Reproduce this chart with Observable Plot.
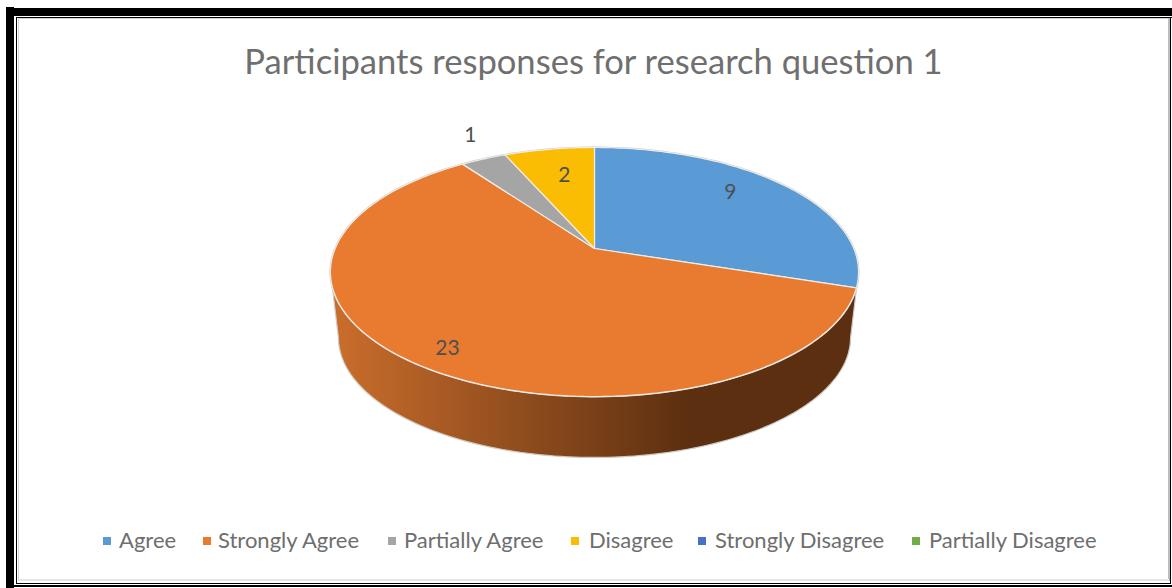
<!DOCTYPE html>
<html>
<head>
<meta charset="utf-8">
<script src="https://cdn.jsdelivr.net/npm/d3@7"></script>
<script src="https://cdn.jsdelivr.net/npm/@observablehq/plot@0.6"></script>
<style>
  html, body { margin: 0; padding: 0; background: #fff; }
  #page { position: relative; width: 1172px; height: 588px; overflow: hidden; font-family: Lato, "Noto Sans", sans-serif; }
  .rule { position: absolute; background: #000; }
  .soft { position: absolute; background: #d4d4d4; }
  #title { position: absolute; left: 0; top: 39px; width: 1187px; text-align: center; font-size: 34.6px; line-height: 44px; color: #6f6f6f; white-space: nowrap; }
  #chart { position: absolute; left: 0; top: 100px; }
  #legend { position: absolute; left: 0; top: 525px; height: 30px; width: 1172px; font-size: 22px; line-height: 30px; color: #6e6e6e; }
  #legend span.key { position: absolute; top: 12px; width: 8px; height: 8px; }
  #legend span.name { position: absolute; top: 0; white-space: nowrap; }
</style>
</head>
<body>
<div id="page">
  <div class="rule" style="left:6px;top:7px;width:8px;height:581px"></div>
  <div class="rule" style="left:6px;top:8px;width:1166px;height:8px"></div>
  <div class="rule" style="left:16px;top:17px;width:1px;height:567px"></div>
  <div class="rule" style="left:16px;top:17px;width:1156px;height:1px"></div>
  <div class="rule" style="left:1170px;top:17px;width:1px;height:567px"></div>
  <div class="rule" style="left:16px;top:583px;width:1155px;height:1px"></div>
  <div class="rule" style="left:6px;top:585px;width:1166px;height:2px"></div>
  <div class="soft" style="left:18px;top:18px;width:1px;height:563px"></div>
  <div class="soft" style="left:18px;top:18px;width:1151px;height:1px"></div>
  <div class="soft" style="left:1168px;top:18px;width:2px;height:563px;background:#bdbdbd"></div>
  <div class="soft" style="left:18px;top:579px;width:1151px;height:2px;background:#e6e6e6"></div>
  <div id="title">Participants responses for research question 1</div>
  <div id="chart"></div>
  <div id="legend"></div>
</div>
<script>
// Survey answers, in the order they run clockwise from twelve o'clock.
const categories = ["Agree", "Strongly Agree", "Partially Agree", "Disagree", "Strongly Disagree", "Partially Disagree"];
const counts = [9, 23, 1, 2, 0, 0];
const colors = ["#5B9BD5", "#E97B30", "#A5A5A5", "#FBBC04", "#4472C4", "#70AD47"];

// Legend entries: key and label left edges.
const legendKeys = [103, 203, 388, 571, 698, 912];
const legendNames = [119, 218, 404, 589, 715, 929];

// Data label placement, in disc radii from the pie's centre.
const labelSpots = [[0.515, -0.212], [-0.557, 0.379], [-0.47, -0.428], [-0.114, -0.277]];

// Camera: the disc is seen from above and in front, so the near half is
// foreshortened differently from the far half and the hub sits above the rim's middle.
const tilt = 0.1888;
const kx = 0.9822, ky = 0.4549;
const warp = (t) => t + 0.2642 * Math.sin(t) - 0.054 * Math.sin(2 * t);
const onTop = (t) => {
  const a = warp(t), u = Math.sin(a), v = -Math.cos(a), w = 1 - tilt * v;
  return { x: kx * u / w, y: ky * v / w };
};

const pie = d3.pie().sort(null).value((d) => d.count);
const answers = categories.map((name, i) => ({ name, count: counts[i] }));
const slices = pie(answers).filter((s) => s.data.count > 0);

const sliceOutline = slices.flatMap((s) => {
  const steps = Math.max(2, Math.ceil((s.endAngle - s.startAngle) * 60));
  const rim = d3.range(steps + 1).map((i) => onTop(s.startAngle + (s.endAngle - s.startAngle) * i / steps));
  return [{ x: 0, y: 0 }, ...rim].map((p) => ({ ...p, name: s.data.name }));
});

// Side wall: front half of the top rim, then the smaller base rim coming back.
const halfTurn = d3.range(0, 121).map((i) => Math.PI * i / 120);
const wall = [
  ...halfTurn.map((t) => ({ x: Math.cos(t), y: 0.089 + 0.4716 * Math.sin(t) })),
  ...halfTurn.slice().reverse().map((t) => ({ x: 0.97 * Math.cos(t), y: 0.337 + 0.4545 * Math.sin(t) }))
];
const topRim = d3.range(0, 241).map((i) => {
  const t = 2 * Math.PI * i / 240;
  return { x: Math.cos(t), y: 0.089 + 0.4716 * Math.sin(t) };
});

const labels = slices.map((s, i) => ({ text: String(s.data.count), x: labelSpots[i][0], y: labelSpots[i][1] }));

const radius = 264, hubX = 594, hubY = 148, width = 1172, height = 400;

const shade = () => {
  const defs = d3.create("svg:defs");
  const g = defs.append("linearGradient").attr("id", "wallShade").attr("x1", 0).attr("x2", 1).attr("y1", 0).attr("y2", 0);
  g.append("stop").attr("offset", "0%").attr("stop-color", "#cb6e2c");
  g.append("stop").attr("offset", "68%").attr("stop-color", "#5c2f10");
  g.append("stop").attr("offset", "100%").attr("stop-color", "#5c2f10");
  return defs.node();
};

const chart = Plot.plot({
  width, height, margin: 0,
  style: { background: "transparent", overflow: "visible" },
  x: { domain: [-hubX / radius, (width - hubX) / radius], range: [0, width], axis: null },
  y: { domain: [-hubY / radius, (height - hubY) / radius], range: [0, height], axis: null },
  color: { domain: categories, range: colors },
  marks: [
    shade,
    Plot.line(wall, { x: "x", y: "y", curve: "linear-closed", fill: "url(#wallShade)", stroke: "#cfc9c2", strokeWidth: 1.2 }),
    Plot.line(topRim, { x: "x", y: "y", curve: "linear-closed", stroke: "#c9c9c9", strokeWidth: 2 }),
    Plot.line(sliceOutline, { x: "x", y: "y", z: "name", fill: "name", curve: "linear-closed", stroke: "#f1ece6", strokeWidth: 1.2, strokeLinejoin: "round" }),
    Plot.text(labels, { x: "x", y: "y", text: "text", fontSize: 21, fill: "#4f4f4f", fontFamily: "Lato, 'Noto Sans', sans-serif" })
  ]
});
document.getElementById("chart").appendChild(chart);

const legend = d3.select("#legend");
categories.forEach((name, i) => {
  legend.append("span").attr("class", "key").style("left", legendKeys[i] + "px").style("background", colors[i]);
  legend.append("span").attr("class", "name").style("left", legendNames[i] + "px").text(name);
});
</script>
</body>
</html>
